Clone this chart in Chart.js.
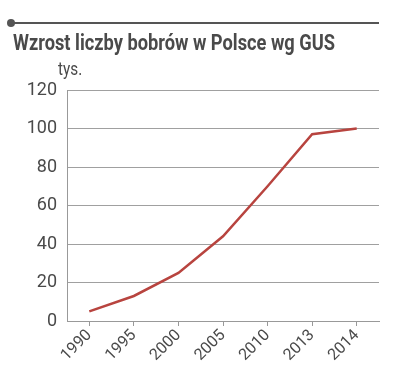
<!DOCTYPE html>
<html>
<head>
<meta charset="utf-8">
<script src="https://cdn.jsdelivr.net/npm/chart.js@4/dist/chart.umd.min.js"></script>
<style>
  html, body { margin:0; padding:0; background:#fff; }
  #wrap { position:relative; width:395px; height:380px; overflow:hidden; }
  #rule { position:absolute; left:10px; top:22px; width:369px; height:2px; background:#555; }
  #dot { position:absolute; left:7px; top:19px; width:8px; height:8px; border-radius:50%; background:#555; }
  #title { position:absolute; left:13px; top:31px; margin:0; font-family:Roboto,sans-serif; font-weight:bold; font-size:22px; color:#4a4a4a; white-space:nowrap; line-height:1.1; transform-origin:0 0; }
  #unit { position:absolute; left:58px; top:59px; font-family:Roboto,sans-serif; font-size:18px; color:#4a4a4a; line-height:1.1; transform-origin:0 0; transform:scaleX(0.85); }
  canvas { position:absolute; left:0; top:0; }
</style>
</head>
<body>
<div id="wrap">
  <canvas id="c" width="395" height="380"></canvas>
  <div id="rule"></div>
  <div id="dot"></div>
  <div id="title">Wzrost liczby bobrów w Polsce wg GUS</div>
  <div id="unit">tys.</div>
</div>
<script>
const years = ["1990", "1995", "2000", "2005", "2010", "2013", "2014"];
const beavers = [5, 13, 25, 44, 70, 97, 100];
const yTicks = [0, 20, 40, 60, 80, 100, 120];

const FONT = 'Roboto,sans-serif';

// fit title to reference width
const t = document.getElementById('title');
const w = t.getBoundingClientRect().width;
t.style.transform = 'scaleX(' + (322 / w) + ')';

new Chart(document.getElementById('c'), {
  type: 'line',
  data: {
    labels: years,
    datasets: [{
      data: beavers,
      borderColor: '#b8443f',
      borderWidth: 2.5,
      pointRadius: 0,
      tension: 0,
      fill: false
    }]
  },
  options: {
    responsive: false,
    animation: false,
    devicePixelRatio: 1,
    layout: { padding: { left: 0, right: 16, top: 90, bottom: 0 } },
    plugins: { legend: { display: false }, tooltip: { enabled: false }, title: { display: false } },
    scales: {
      x: {
        type: 'category',
        offset: true,
        grid: { offset: false, drawOnChartArea: false, drawTicks: true, tickLength: 5, color: '#999' },
        border: { color: '#999', width: 1 },
        ticks: { minRotation: 45, maxRotation: 45, color: '#4a4a4a', font: { family: FONT, size: 16 }, padding: 0, autoSkip: false },
        afterFit: (s) => { s.height = 59; }
      },
      y: {
        min: 0, max: 120,
        afterBuildTicks: (s) => { s.ticks = yTicks.map(v => ({ value: v })); },
        grid: { color: '#a0a0a0', drawTicks: false, lineWidth: 1 },
        border: { color: '#999', width: 1 },
        ticks: { color: '#4a4a4a', font: { family: FONT, size: 18 }, padding: 10 },
        afterFit: (s) => { s.width = 67; }
      }
    }
  }
});
</script>
</body>
</html>
